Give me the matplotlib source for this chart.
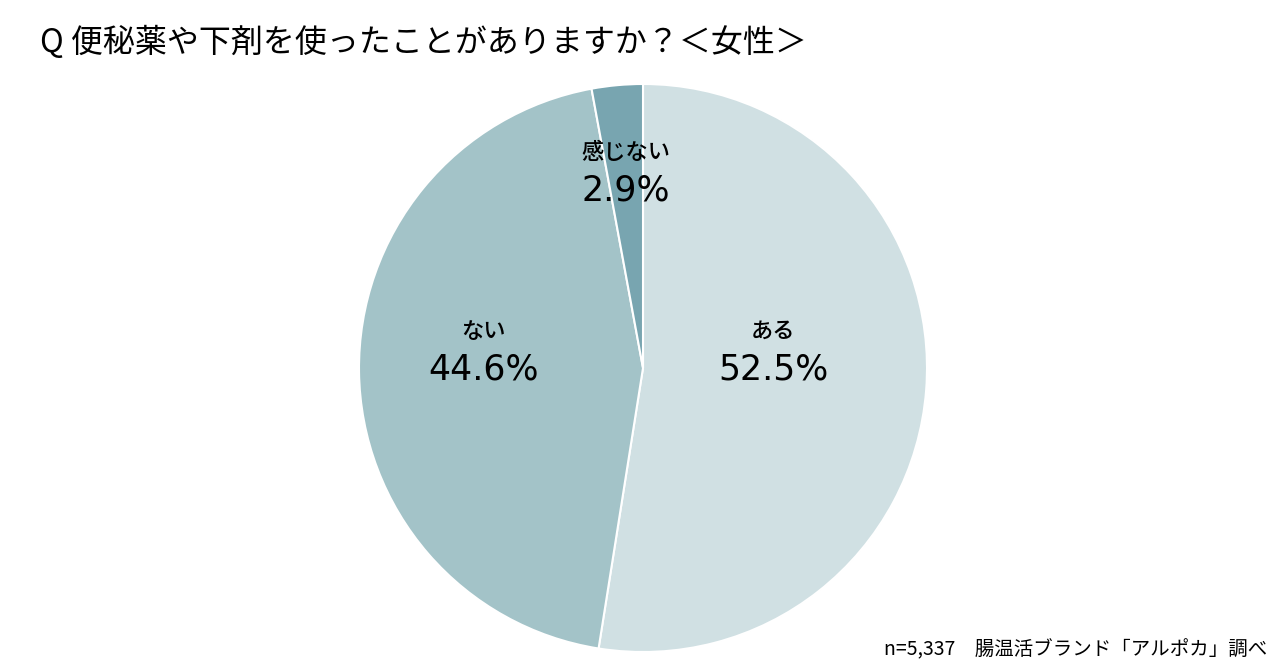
import matplotlib
matplotlib.use("Agg")
import matplotlib.pyplot as plt

plt.rcParams['font.family'] = ['Noto Sans CJK JP', 'DejaVu Sans']

# data
labels = ["ある", "ない", "感じない"]
values = [52.5, 44.6, 2.9]
colors = ["#D0E0E3", "#A3C3C8", "#78A5B0"]
# label anchor positions (in pie radius units)
label_pos = [(0.458, -0.005), (-0.563, -0.005), (-0.06, 0.625)]

fig = plt.figure(figsize=(12.8, 6.7), dpi=100)
ax = fig.add_axes([359 / 1280, 18 / 670, 568 / 1280, 568 / 670])
ax.pie(values, colors=colors, startangle=90, counterclock=False,
       radius=1.0, wedgeprops=dict(edgecolor="white", linewidth=1.5))
ax.set_xlim(-1, 1)
ax.set_ylim(-1, 1)
ax.set_aspect("equal")
ax.axis("off")

for lab, v, (x, y) in zip(labels, values, label_pos):
    ax.text(x, y, f"{v:.1f}%", ha="center", va="center", fontsize=25,
            family=['DejaVu Sans'])
    ax.text(x, y + 0.135, lab, ha="center", va="center", fontsize=16,
            fontweight="medium")

fig.text(40 / 1280, 1 - 42 / 670, "Q 便秘薬や下剤を使ったことがありますか？＜女性＞",
         ha="left", va="center", fontsize=23)
fig.text(1267 / 1280, 1 - 650 / 670, "n=5,337　腸温活ブランド「アルポカ」調べ",
         ha="right", va="center", fontsize=14)

fig.savefig("out.png", dpi=100)
